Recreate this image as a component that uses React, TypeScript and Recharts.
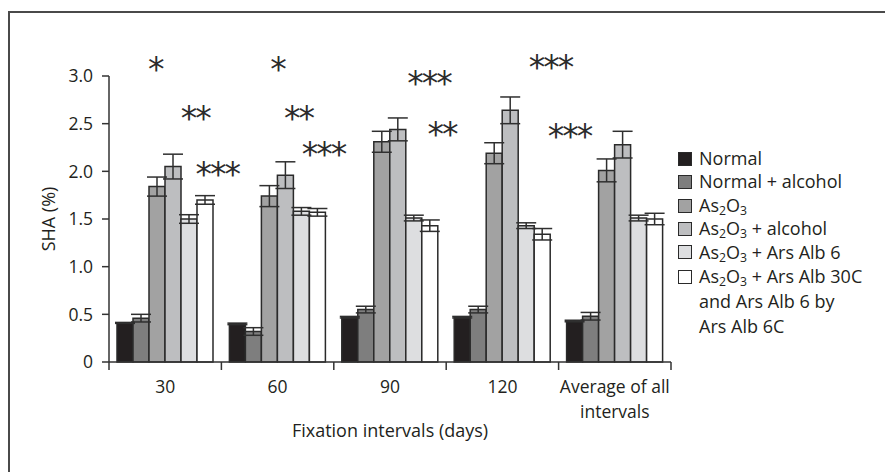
import React from 'react';
import {
  BarChart,
  Bar,
  XAxis,
  YAxis,
  ErrorBar,
  ReferenceDot,
  Text,
} from 'recharts';

const categories = ['30', '60', '90', '120', 'Average of all intervals'];

const seriesNames = [
  'Normal',
  'Normal + alcohol',
  'As2O3',
  'As2O3 + alcohol',
  'As2O3 + Ars Alb 6',
  'As2O3 + Ars Alb 30C and Ars Alb 6 by Ars Alb 6C',
];
const seriesColors = ['#231f20', '#7e7e7e', '#a2a2a2', '#bdbec0', '#dddee0', '#ffffff'];

const normal = [0.41, 0.4, 0.47, 0.47, 0.43];
const normalErr = [0.005, 0.008, 0.008, 0.008, 0.008];
const normalAlc = [0.46, 0.32, 0.55, 0.55, 0.48];
const normalAlcErr = [0.04, 0.04, 0.035, 0.035, 0.04];
const as2o3 = [1.84, 1.74, 2.31, 2.19, 2.01];
const as2o3Err = [0.1, 0.11, 0.11, 0.11, 0.12];
const as2o3Alc = [2.05, 1.96, 2.44, 2.64, 2.28];
const as2o3AlcErr = [0.13, 0.14, 0.12, 0.14, 0.14];
const arsAlb6 = [1.5, 1.58, 1.51, 1.43, 1.51];
const arsAlb6Err = [0.045, 0.04, 0.03, 0.03, 0.03];
const arsAlb30 = [1.7, 1.57, 1.43, 1.34, 1.5];
const arsAlb30Err = [0.045, 0.04, 0.06, 0.06, 0.06];

const yTicks = [0, 0.5, 1, 1.5, 2, 2.5, 3];

// significance marks: category, height (in SHA units), text, nudge right of category centre
const starCats = ['30', '30', '30', '60', '60', '60', '90', '90', '120', '120'];
const starY = [3.15, 2.63, 2.05, 3.15, 2.63, 2.26, 3.0, 2.46, 3.17, 2.44];
const starText = ['*', '**', '***', '*', '**', '***', '***', '**', '***', '***'];
const starDx = [-10, 30, 52, 0, 21, 46, 39, 52, 48, 67];

const values = [normal, normalAlc, as2o3, as2o3Alc, arsAlb6, arsAlb30];
const errors = [normalErr, normalAlcErr, as2o3Err, as2o3AlcErr, arsAlb6Err, arsAlb30Err];

const data = categories.map((c, i) => {
  const row: Record<string, string | number> = { name: c };
  values.forEach((v, s) => {
    row['s' + s] = v[i];
    row['e' + s] = errors[s][i];
  });
  return row;
});

const FONT = '"Open Sans", sans-serif';
const INK = '#231f20';
const AXIS = '#333';
const TICK_SIZE = 8;
const TICK_MARGIN = 11;

const subStyle = { fontSize: '0.68em', verticalAlign: '-0.24em', lineHeight: 0 };

// legend label: As2O3 gets real subscripts, words are kept as separate spans so wrapped lines don't share one box
function Chem({ text }: { text: string }) {
  const words = text.split(' ');
  return (
    <>
      {words.map((w, i) => (
        <React.Fragment key={i}>
          {w === 'As2O3' ? (
            <span>
              As<sub style={subStyle}>2</sub>O<sub style={subStyle}>3</sub>
            </span>
          ) : (
            <span>{w}</span>
          )}
          {i < words.length - 1 ? ' ' : null}
        </React.Fragment>
      ))}
    </>
  );
}

const XTick = (props: any) => {
  const { x, y, payload, index, visibleTicksCount } = props;
  const off = payload.offset || 0;
  const axisY = y - TICK_SIZE - TICK_MARGIN;
  return (
    <g>
      <line x1={x - off} x2={x - off} y1={axisY} y2={axisY + TICK_SIZE} stroke={AXIS} strokeWidth={1.5} />
      {index === visibleTicksCount - 1 && (
        <line x1={x + off} x2={x + off} y1={axisY} y2={axisY + TICK_SIZE} stroke={AXIS} strokeWidth={1.5} />
      )}
      <Text
        x={x}
        y={y}
        width={118}
        textAnchor="middle"
        verticalAnchor="start"
        lineHeight={25}
        fontSize={17.5}
        fontFamily={FONT}
        fill={INK}
      >
        {payload.value}
      </Text>
    </g>
  );
};

const Star = (text: string, dx: number) => (props: any) => {
  const { cx, cy } = props;
  return (
    <text
      x={cx + dx}
      y={cy + 19}
      textAnchor="middle"
      fontSize={33}
      letterSpacing={-2}
      fontFamily='"DejaVu Sans", sans-serif'
      fill="#2b2b2b"
    >
      {text}
    </text>
  );
};

export default function App() {
  return (
    <div
      style={{
        position: 'relative',
        marginTop: 3,
        width: 883,
        height: 459,
        borderTop: '2px solid #4a4a4a',
        borderLeft: '2px solid #4a4a4a',
        fontFamily: FONT,
      }}
    >
      <BarChart
        width={883}
        height={459}
        data={data}
        margin={{ top: 63, right: 222, left: 39, bottom: 30 }}
        barCategoryGap={8}
        barGap={0}
      >
        <XAxis
          dataKey="name"
          height={80}
          interval={0}
          axisLine={{ stroke: AXIS, strokeWidth: 1.5 }}
          tickLine={false}
          tickSize={TICK_SIZE}
          tickMargin={TICK_MARGIN}
          tick={<XTick />}
          label={{
            content: (p: any) => {
              const vb = p.viewBox;
              return (
                <text
                  x={vb.x + vb.width / 2}
                  y={vb.y + 75}
                  textAnchor="middle"
                  fontSize={18}
                  fontFamily={FONT}
                  fill={INK}
                >
                  Fixation intervals (days)
                </text>
              );
            },
          }}
        />
        <YAxis
          width={60}
          domain={[0, 3]}
          ticks={yTicks}
          interval={0}
          tickFormatter={(v: number) => (v === 0 ? '0' : v.toFixed(1))}
          axisLine={{ stroke: AXIS, strokeWidth: 1.5 }}
          tickLine={{ stroke: AXIS, strokeWidth: 1.5 }}
          tickSize={7}
          tickMargin={9}
          tick={{ fontSize: 17.5, fontFamily: FONT, fill: INK }}
          label={{
            content: (p: any) => {
              const vb = p.viewBox;
              const x = vb.x + 5.5;
              const y = vb.y + vb.height / 2;
              return (
                <text
                  x={x}
                  y={y}
                  transform={`rotate(-90, ${x}, ${y})`}
                  textAnchor="middle"
                  fontSize={18}
                  fontFamily={FONT}
                  fill={INK}
                >
                  SHA (%)
                </text>
              );
            },
          }}
        />
        {seriesNames.map((n, s) => (
          <Bar
            key={n}
            dataKey={'s' + s}
            name={n}
            fill={seriesColors[s]}
            stroke="#2a2a2a"
            strokeWidth={1.5}
            isAnimationActive={false}
          >
            <ErrorBar dataKey={'e' + s} width={10} stroke="#2f2f2f" strokeWidth={1.5} />
          </Bar>
        ))}
        {starCats.map((c, i) => (
          <ReferenceDot
            key={i}
            x={c}
            y={starY[i]}
            r={0}
            ifOverflow="visible"
            shape={Star(starText[i], starDx[i])}
          />
        ))}
      </BarChart>
      <div style={{ position: 'absolute', left: 668, top: 134, width: 200, color: INK, fontSize: 18 }}>
        {seriesNames.map((n, s) => {
          const lh = s === seriesNames.length - 1 ? 25 : 23.4;
          return (
            <div key={n} style={{ display: 'flex', alignItems: 'flex-start', lineHeight: lh + 'px' }}>
              <div
                style={{
                  width: 12,
                  height: 12,
                  marginTop: (lh - 14) / 2,
                  border: '1.5px solid #2a2a2a',
                  background: seriesColors[s],
                  flex: 'none',
                }}
              />
              <div style={{ marginLeft: 7, width: 166 }}>
                <Chem text={n} />
              </div>
            </div>
          );
        })}
      </div>
    </div>
  );
}
